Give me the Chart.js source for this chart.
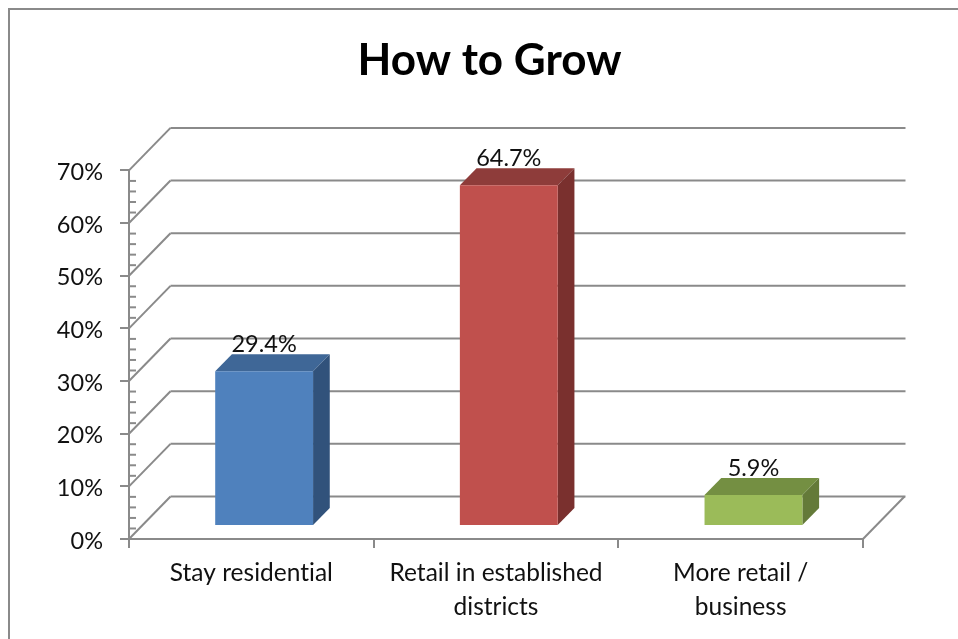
<!DOCTYPE html>
<html>
<head>
<meta charset="utf-8">
<title>How to Grow</title>
<script src="https://cdn.jsdelivr.net/npm/chart.js@4"></script>
<style>
html, body { margin: 0; padding: 0; background: #fff; overflow: hidden; }
canvas { display: block; }
</style>
</head>
<body>
<canvas id="chart" width="958" height="639"></canvas>
<script>
const chartTitle = "How to Grow";
const categories = ["Stay residential", ["Retail in established", "districts"], ["More retail /", "business"]];
const values = [29.4, 64.7, 5.9];
const valueLabels = ["29.4%", "64.7%", "5.9%"];
const frontColors = ["#4f81bd", "#c0504d", "#9bbb59"];
const topColors = ["#3f6797", "#8e3c3a", "#748f42"];
const sideColors = ["#31527b", "#7a302e", "#647a39"];

const axisMin = 0;
const axisMax = 70;
const majorStep = 10;
const minorStep = 2;

const FONT = "Lato, Carlito, sans-serif";
const AXIS_COLOR = "#8a8a8a";
const wall = { dx: 41.5, dy: -42.5 };
const barShift = { dx: 12.8, dy: -13 };
const barDepth = { dx: 16.7, dy: -17 };

function poly(ctx, pts, color) {
    ctx.fillStyle = color;
    ctx.beginPath();
    pts.forEach((p, i) => (i ? ctx.lineTo(p[0], p[1]) : ctx.moveTo(p[0], p[1])));
    ctx.closePath();
    ctx.fill();
}

function line(ctx, x1, y1, x2, y2) {
    ctx.beginPath();
    ctx.moveTo(x1, y1);
    ctx.lineTo(x2, y2);
    ctx.stroke();
}

// Outer frame, back wall lines and the 3D faces of the bars
const depthPlugin = {
    id: "depth",
    afterLayout(chart) {
        // title is centred a little left of the plot area
        chart.titleBlock.left = 116;
    },
    beforeDraw(chart) {
        const ctx = chart.ctx;
        // no "ti" ligatures, the reference font has none
        ctx.letterSpacing = "0.01px";
        ctx.save();
        ctx.strokeStyle = AXIS_COLOR;
        ctx.lineWidth = 2;
        ctx.strokeRect(9, 9, 1200, 1200);
        ctx.restore();
    },
    beforeDatasetsDraw(chart) {
        const ctx = chart.ctx;
        const x = chart.scales.x;
        const y = chart.scales.y;
        ctx.save();
        ctx.strokeStyle = AXIS_COLOR;
        ctx.lineWidth = 2;
        for (let v = axisMin; v <= axisMax; v += majorStep) {
            const py = y.getPixelForValue(v);
            line(ctx, x.left, py, x.left + wall.dx, py + wall.dy);
            line(ctx, x.left + wall.dx, py + wall.dy, x.right + wall.dx + 1, py + wall.dy);
        }
        line(ctx, x.right, y.bottom, x.right + wall.dx, y.bottom + wall.dy);
        for (let v = axisMin; v < axisMax; v += minorStep) {
            if (v % majorStep === 0) continue;
            const py = y.getPixelForValue(v);
            line(ctx, x.left, py, x.left + 7, py);
        }
        chart.getDatasetMeta(0).data.forEach((bar, i) => {
            const l = bar.x - bar.width / 2 + barShift.dx;
            const r = bar.x + bar.width / 2 + barShift.dx;
            const t = bar.y + barShift.dy;
            const b = bar.base + barShift.dy;
            poly(ctx, [[l, t], [l + barDepth.dx, t + barDepth.dy], [r + barDepth.dx, t + barDepth.dy], [r, t]], topColors[i]);
            poly(ctx, [[r, t], [r + barDepth.dx, t + barDepth.dy], [r + barDepth.dx, b + barDepth.dy], [r, b]], sideColors[i]);
        });
        ctx.restore();
        // front faces are the library's own bars, moved into the floor
        ctx.save();
        ctx.translate(barShift.dx, barShift.dy);
    },
    afterDatasetsDraw(chart) {
        const ctx = chart.ctx;
        ctx.restore();
        ctx.save();
        ctx.font = "23.5px " + FONT;
        ctx.fillStyle = "#111";
        ctx.textAlign = "center";
        ctx.textBaseline = "alphabetic";
        chart.getDatasetMeta(0).data.forEach((bar, i) => {
            ctx.fillText(valueLabels[i], bar.x + barShift.dx, bar.y + barShift.dy + barDepth.dy - 2);
        });
        ctx.restore();
    }
};

new Chart(document.getElementById("chart"), {
    type: "bar",
    data: {
        labels: categories,
        datasets: [
            {
                data: values,
                backgroundColor: frontColors,
                borderWidth: 0,
                categoryPercentage: 0.4,
                barPercentage: 1,
            },
        ],
    },
    options: {
        responsive: false,
        animation: false,
        layout: {
            autoPadding: false,
            padding: { left: 0, right: 95, top: 0, bottom: 0 },
        },
        plugins: {
            legend: { display: false },
            tooltip: { enabled: false },
            title: {
                display: true,
                text: chartTitle,
                color: "#000",
                font: { family: FONT, size: 44, weight: "bold", lineHeight: 1.2 },
                padding: { top: 34, bottom: 83.6 },
            },
        },
        scales: {
            x: {
                afterFit(scale) {
                    scale.height = 100;
                },
                grid: {
                    drawOnChartArea: false,
                    color: AXIS_COLOR,
                    lineWidth: 2,
                    tickLength: 9,
                },
                border: { color: AXIS_COLOR, width: 2 },
                ticks: {
                    color: "#111",
                    padding: 9,
                    maxRotation: 0,
                    autoSkip: false,
                    font: { family: FONT, size: 24.5, lineHeight: 1.35 },
                },
            },
            y: {
                min: axisMin,
                max: axisMax,
                afterFit(scale) {
                    scale.width = 129;
                },
                grid: {
                    drawOnChartArea: false,
                    color: AXIS_COLOR,
                    lineWidth: 2,
                    tickLength: 9,
                },
                border: { color: AXIS_COLOR, width: 2 },
                ticks: {
                    stepSize: majorStep,
                    color: "#111",
                    padding: 17,
                    labelOffset: 2,
                    font: { family: FONT, size: 23.5 },
                    callback: (v) => v + "%",
                },
            },
        },
    },
    plugins: [depthPlugin],
});
</script>
</body>
</html>
